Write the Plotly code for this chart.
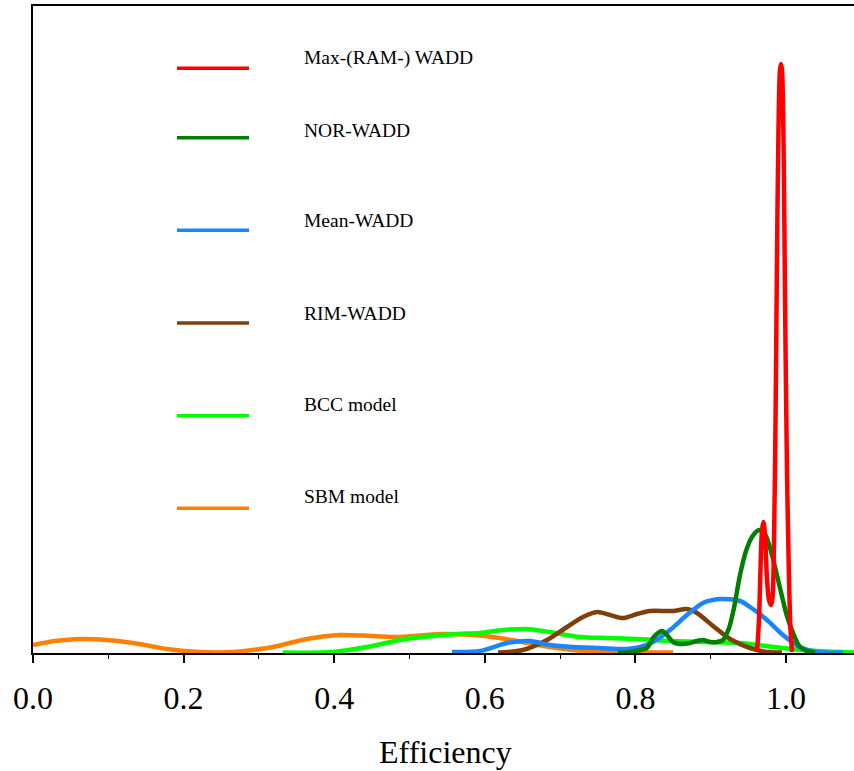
import plotly.graph_objects as go

# ---------------- data ----------------
series_names = ["Max-(RAM-) WADD", "NOR-WADD", "Mean-WADD", "RIM-WADD", "BCC model", "SBM model"]
series_colors = ["#FF0000", "#007F00", "#1A85FF", "#7F3F0A", "#00FF00", "#FF8000"]

max_x = [0.9615, 0.9641, 0.9661, 0.9681, 0.9701, 0.9721, 0.9748, 0.9774, 0.9801, 0.9821,
         0.9841, 0.9861, 0.9880, 0.9900, 0.9920, 0.9934, 0.9947, 0.9967, 0.9987, 1.0013,
         1.0040, 1.0060, 1.0080]
max_y = [0.1, 3.3, 8.3, 12.3, 13.1, 11.8, 7.3, 5.3, 4.8, 5.5,
         11.3, 23.3, 39.3, 52.3, 58.3, 58.9, 58.3, 51.3, 35.3, 18.3,
         7.3, 2.3, 0.1]

nor_x = [0.7769, 0.7902, 0.8061, 0.8154, 0.8234, 0.8300, 0.8353, 0.8420, 0.8499, 0.8592,
         0.8725, 0.8818, 0.8898, 0.8991, 0.9084, 0.9163, 0.9243, 0.9309, 0.9389, 0.9469,
         0.9548, 0.9641, 0.9721, 0.9814, 0.9920, 1.0013, 1.0093, 1.0186, 1.0292, 1.0385]
nor_y = [0.05, 0.05, 0.3, 0.5, 1.5, 2.0, 2.2, 1.8, 1.1, 0.9,
         1.0, 1.2, 1.3, 1.1, 1.1, 1.3, 2.5, 4.5, 7.8, 10.2,
         11.6, 12.3, 11.9, 9.8, 6.5, 3.7, 2.0, 0.6, 0.15, 0.05]

mean_x = [0.5564, 0.5936, 0.6295, 0.6600, 0.6866, 0.7171, 0.7530, 0.7888, 0.8061, 0.8234,
          0.8459, 0.8685, 0.8898, 0.9124, 0.9389, 0.9522, 0.9748, 0.9960, 1.0186, 1.0412,
          1.0757]
mean_y = [0.1, 0.2, 1.0, 1.2, 0.8, 0.6, 0.5, 0.4, 0.6, 1.1,
          2.3, 3.8, 5.0, 5.4, 5.2, 4.6, 3.3, 1.8, 0.6, 0.1,
          0.05]

rim_x = [0.6175, 0.6507, 0.6826, 0.7092, 0.7304, 0.7490, 0.7663, 0.7835, 0.8021, 0.8194,
         0.8499, 0.8685, 0.8818, 0.9031, 0.9256, 0.9522, 0.9748, 0.9947]
rim_y = [0.05, 0.3, 1.3, 2.6, 3.6, 4.1, 3.8, 3.5, 3.9, 4.2,
         4.2, 4.4, 4.0, 2.7, 1.4, 0.5, 0.1, 0.05]

bcc_x = [0.3320, 0.3984, 0.4436, 0.4874, 0.5179, 0.5631, 0.5936, 0.6242, 0.6560, 0.6866,
         0.7265, 0.7623, 0.8021, 0.8499, 0.8951, 0.9389, 0.9960, 1.0412, 1.0903]
bcc_y = [0.05, 0.1, 0.6, 1.3, 1.6, 1.9, 2.0, 2.3, 2.4, 2.1,
         1.6, 1.5, 1.4, 1.2, 1.1, 1.0, 0.5, 0.2, 0.05]

sbm_x = [0.0, 0.0292, 0.0624, 0.0890, 0.1328, 0.1780, 0.2218, 0.2656, 0.3015, 0.3187,
         0.3639, 0.4077, 0.4515, 0.4874, 0.5405, 0.5843, 0.6109, 0.6428, 0.6866, 0.7304,
         0.7835, 0.8499]
sbm_y = [0.8, 1.2, 1.4, 1.35, 1.0, 0.4, 0.1, 0.1, 0.4, 0.6,
         1.4, 1.8, 1.7, 1.6, 1.9, 1.8, 1.6, 1.2, 0.6, 0.2,
         0.05, 0.05]

x_tick_vals = [0.0, 0.2, 0.4, 0.6, 0.8, 1.0]
x_tick_text = ["0.0", "0.2", "0.4", "0.6", "0.8", "1.0"]
x_title = "Efficiency"

all_x = [max_x, nor_x, mean_x, rim_x, bcc_x, sbm_x]
all_y = [max_y, nor_y, mean_y, rim_y, bcc_y, sbm_y]

# ---------------- figure ----------------
W, H = 854, 771
ML, MR, MT, MB = 33, 0, 6, 118
PW, PH = W - ML - MR, H - MT - MB

FONT = "Liberation Serif, Times New Roman, serif"

fig = go.Figure()
# draw in reverse legend order so the first series ends on top
for i in reversed(range(len(series_names))):
    fig.add_trace(go.Scatter(
        x=all_x[i], y=all_y[i], mode="lines", name=series_names[i],
        line=dict(color=series_colors[i], width=4.5, shape="spline", smoothing=0.8),
        showlegend=False, hoverinfo="skip"))

# custom legend (line sample + label), positions in pixels of the page
legend_line_y = [68.3, 137.7, 230.3, 323.0, 415.7, 508.3]
legend_text_y = [57.5, 130.0, 221.0, 313.0, 404.0, 496.5]
leg_x0, leg_x1, leg_tx = 177, 249, 302

def px_to_paper_x(px):
    return (px - ML) / PW

def px_to_paper_y(py):
    return (H - MB - py) / PH

shapes = []
annotations = []
for i, name in enumerate(series_names):
    yy = px_to_paper_y(legend_line_y[i])
    shapes.append(dict(type="line", xref="paper", yref="paper",
                       x0=px_to_paper_x(leg_x0), x1=px_to_paper_x(leg_x1), y0=yy, y1=yy,
                       line=dict(color=series_colors[i], width=3.5)))
    annotations.append(dict(text=name, xref="paper", yref="paper",
                            x=px_to_paper_x(leg_tx), y=px_to_paper_y(legend_text_y[i]),
                            xanchor="left", yanchor="middle", showarrow=False,
                            font=dict(family=FONT, size=19.5, color="black")))

# axis title as annotation
annotations.append(dict(text=x_title, xref="paper", yref="paper",
                        x=px_to_paper_x(445), y=px_to_paper_y(752),
                        xanchor="center", yanchor="middle", showarrow=False,
                        font=dict(family=FONT, size=32, color="black")))

fig.update_layout(
    width=W, height=H,
    margin=dict(l=ML, r=MR, t=MT, b=MB, pad=0),
    paper_bgcolor="white", plot_bgcolor="white",
    shapes=shapes, annotations=annotations,
    showlegend=False,
    xaxis=dict(range=[0, 1.0903], tickvals=x_tick_vals, ticktext=x_tick_text,
               ticks="outside", ticklen=8, tickwidth=1.5, tickcolor="black",
               minor=dict(dtick=0.1, tick0=0, ticks="outside", ticklen=4, tickwidth=1.2, tickcolor="black", showgrid=False),
               showline=True, linecolor="black", linewidth=2, mirror=True,
               showgrid=False, zeroline=False,
               tickfont=dict(family=FONT, size=32, color="black"),
               ticklabelstandoff=8),
    yaxis=dict(range=[0, 64.7], showticklabels=False, ticks="",
               showline=True, linecolor="black", linewidth=1.5,
               showgrid=False, zeroline=False),
)

fig.write_html("out.html", config={"displayModeBar": False},
               post_script="document.body.style.margin='0';document.body.style.padding='0';")
